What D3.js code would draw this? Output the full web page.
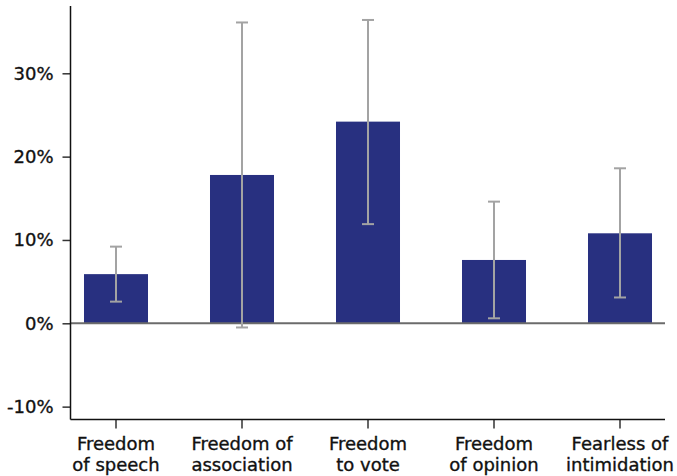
<!DOCTYPE html>
<html>
<head>
<meta charset="utf-8">
<script src="https://cdn.jsdelivr.net/npm/d3@7"></script>
<style>
  html, body { margin: 0; padding: 0; background: #fff; }
  svg text { font-family: "DejaVu Sans", sans-serif; fill: #111; stroke: #111; stroke-width: 0.35px; }
</style>
</head>
<body>
<svg id="chart" width="677" height="476"></svg>
<script>
const categories = [["Freedom", "of speech"], ["Freedom of", "association"], ["Freedom", "to vote"], ["Freedom", "of opinion"], ["Fearless of", "intimidation"]];
const values = [5.9, 17.8, 24.2, 7.6, 10.8];
const errLow = [2.6, -0.5, 11.9, 0.6, 3.1];
const errHigh = [9.2, 36.1, 36.4, 14.6, 18.6];
const yTicks = [-10, 0, 10, 20, 30];

const svg = d3.select("#chart");
const axisX = 70.5, axisBottom = 419.5, axisTop = 6, axisRight = 665;

const y = d3.scaleLinear().domain([0, 30]).range([323.3, 73.3]);
const x = d3.scaleBand().domain(d3.range(categories.length)).range([53, 683])
  .paddingInner(0.492).paddingOuter(0.246);

// bars
svg.append("g").selectAll("rect").data(values).join("rect")
  .attr("x", (d, i) => x(i))
  .attr("width", x.bandwidth())
  .attr("y", d => y(d))
  .attr("height", d => y(0) - y(d))
  .attr("fill", "#283080");

// zero line
svg.append("line")
  .attr("x1", axisX).attr("x2", axisRight)
  .attr("y1", y(0)).attr("y2", y(0))
  .attr("stroke", "#6b6b6b").attr("stroke-width", 2);

// error bars
const eg = svg.append("g").attr("stroke", "#a3a3a3").attr("stroke-width", 2);
values.forEach((v, i) => {
  const cx = x(i) + x.bandwidth() / 2;
  eg.append("line").attr("x1", cx).attr("x2", cx).attr("y1", y(errLow[i])).attr("y2", y(errHigh[i]));
  eg.append("line").attr("x1", cx - 6).attr("x2", cx + 6).attr("y1", y(errLow[i])).attr("y2", y(errLow[i]));
  eg.append("line").attr("x1", cx - 6).attr("x2", cx + 6).attr("y1", y(errHigh[i])).attr("y2", y(errHigh[i]));
});

// y axis
const yAxis = d3.axisLeft(y).tickValues(yTicks).tickSize(8).tickPadding(9)
  .tickFormat(d => d + "%");
const yg = svg.append("g").attr("transform", `translate(${axisX},0)`).call(yAxis);
yg.select(".domain").remove();
yg.selectAll(".tick line").attr("stroke", "#333").attr("stroke-width", 1.5);
yg.selectAll(".tick text").attr("font-size", 18).attr("fill", "#111")
  .style("font-family", "'DejaVu Sans', sans-serif");
svg.append("line").attr("x1", axisX).attr("x2", axisX).attr("y1", axisTop).attr("y2", axisBottom)
  .attr("stroke", "#111").attr("stroke-width", 1.5);

// x axis
const xAxis = d3.axisBottom(x).tickSize(9).tickFormat("");
const xg = svg.append("g").attr("transform", `translate(0,${axisBottom})`).call(xAxis);
xg.select(".domain").remove();
xg.selectAll(".tick line").attr("stroke", "#333").attr("stroke-width", 1.5);
svg.append("line").attr("x1", axisX).attr("x2", axisRight).attr("y1", axisBottom).attr("y2", axisBottom)
  .attr("stroke", "#111").attr("stroke-width", 1.5);

const lg = svg.append("g");
categories.forEach((lines, i) => {
  const cx = x(i) + x.bandwidth() / 2;
  const t = lg.append("text").attr("text-anchor", "middle").attr("font-size", 18);
  lines.forEach((ln, j) => {
    t.append("tspan").attr("x", cx).attr("y", 449.5 + j * 21).text(ln);
  });
});
</script>
</body>
</html>
